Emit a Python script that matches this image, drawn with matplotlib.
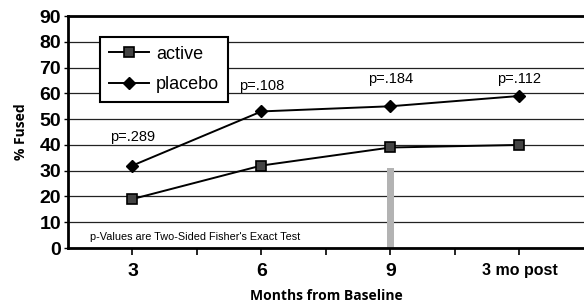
import matplotlib.pyplot as plt
from matplotlib.ticker import MultipleLocator

plt.rcParams["font.family"] = ["Liberation Sans", "DejaVu Sans"]

# data
months = ["3", "6", "9", "3 mo post"]
active = [19, 32, 39, 40]
placebo = [32, 53, 55, 59]
p_labels = ["p=.289", "p=.108", "p=.184", "p=.112"]
p_label_y = [43, 63, 65.5, 65.5]
bar_month = 2
bar_value = 31

x = list(range(len(months)))

fig = plt.figure(figsize=(5.84, 3.02), dpi=100)
ax = fig.add_axes([0.1164, 0.1788, 0.8836, 0.768])

ax.set_axisbelow(True)
ax.grid(axis="y", color="#222222", linewidth=0.9)

ax.bar([bar_month], [bar_value], width=0.06, color="#b3b3b3", zorder=2)

ax.plot(x, active, color="black", linewidth=1.4, marker="s", markersize=7,
        markerfacecolor="#444444", markeredgecolor="black", markeredgewidth=1.2,
        label="active", zorder=3)
ax.plot(x, placebo, color="black", linewidth=1.4, marker="D", markersize=6,
        markerfacecolor="black", markeredgecolor="black",
        label="placebo", zorder=3)

for xi, lab, yi in zip(x, p_labels, p_label_y):
    ax.text(xi, yi, lab, ha="center", va="center", fontsize=10.5)

ax.text(-0.33, 4.3, "p-Values are Two-Sided Fisher's Exact Test",
        ha="left", va="center", fontsize=7.8)

ax.set_xlim(-0.5, 3.5)
ax.set_ylim(0, 90)
ax.yaxis.set_major_locator(MultipleLocator(10))
ax.set_xticks(x)
ax.set_xticklabels(months)
ax.set_xticks([-0.5 + 0.5 * i for i in range(1, 8)], minor=True)
for lab in ax.get_xticklabels():
    lab.set_fontweight("bold")
    lab.set_fontsize(14)
ax.get_xticklabels()[3].set_fontsize(11.5)
for lab in ax.get_yticklabels():
    lab.set_fontweight("bold")
    lab.set_fontsize(14)

ax.tick_params(axis="x", which="both", direction="out", length=5, width=1.2,
               pad=6)
ax.tick_params(axis="y", direction="out", length=3, width=1, pad=2)

for side in ["left", "bottom", "top"]:
    ax.spines[side].set_linewidth(2)
ax.spines["right"].set_visible(False)

ax.set_xlabel("Months from Baseline", fontsize=10, fontweight="bold",
              family=["Open Sans", "DejaVu Sans"], labelpad=6)
ax.set_ylabel("% Fused", fontsize=10, fontweight="bold",
              family=["Open Sans", "DejaVu Sans"], labelpad=8)

leg = ax.legend(loc="upper left", bbox_to_anchor=(0.045, 0.95), fontsize=13,
                frameon=True, fancybox=False, edgecolor="black",
                framealpha=1, borderpad=0.5, handlelength=2.2,
                labelspacing=0.75, handletextpad=0.4)
leg.get_frame().set_linewidth(1.5)

fig.savefig("out.png", dpi=100)
